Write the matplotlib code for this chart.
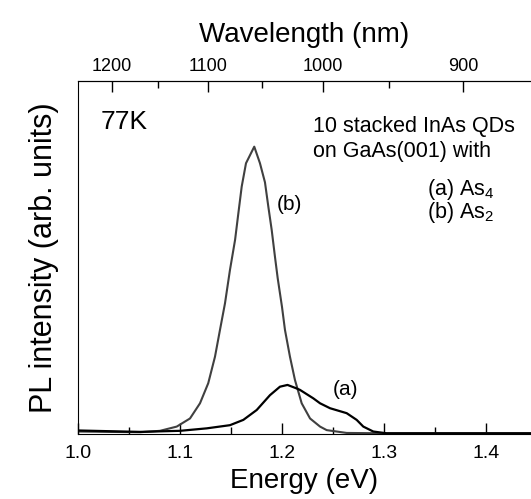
import numpy as np
import matplotlib
matplotlib.use("Agg")
import matplotlib.pyplot as plt
from matplotlib.ticker import FixedLocator, NullFormatter

plt.rcParams['font.family'] = ['Liberation Sans', 'DejaVu Sans']
plt.rcParams['mathtext.fontset'] = 'custom'
plt.rcParams['mathtext.rm'] = 'Liberation Sans'
plt.rcParams['mathtext.it'] = 'Liberation Sans'

# curve (b): As2
energy_b = [1.000, 1.030, 1.0608, 1.0804, 1.0968, 1.1098, 1.1196, 1.1277, 1.1343, 1.1392,
            1.1441, 1.149, 1.154, 1.1572, 1.1605, 1.1647, 1.1728, 1.1784, 1.1833,
            1.1866, 1.1899, 1.1931, 1.1958, 1.2000, 1.2029, 1.2078, 1.2127, 1.2193,
            1.2275, 1.2373, 1.2438, 1.2634, 1.300, 1.350, 1.400, 1.445]
pl_b = [0.007, 0.006, 0.005, 0.009, 0.021, 0.044, 0.087, 0.144, 0.219, 0.295,
        0.370, 0.465, 0.550, 0.625, 0.701, 0.767, 0.814, 0.767, 0.713,
        0.644, 0.578, 0.502, 0.441, 0.360, 0.295, 0.219, 0.153, 0.087,
        0.044, 0.021, 0.011, 0.003, 0.002, 0.002, 0.002, 0.002]

# curve (a): As4
energy_a = [1.000, 1.030, 1.0608, 1.100, 1.1262, 1.149, 1.1621, 1.1752, 1.1882, 1.198,
            1.2054, 1.2144, 1.2176, 1.2307, 1.2373, 1.2471, 1.2634, 1.2732, 1.2797,
            1.2895, 1.3026, 1.350, 1.400, 1.445]
pl_a = [0.010, 0.008, 0.006, 0.009, 0.016, 0.025, 0.040, 0.068, 0.110, 0.134,
        0.139, 0.129, 0.125, 0.101, 0.087, 0.073, 0.059, 0.040, 0.021,
        0.007, 0.002, 0.002, 0.002, 0.002]

energy_ticks = [1.0, 1.1, 1.2, 1.3, 1.4]
wl_ticks = [1200, 1100, 1000, 900]
wl_minor = [1150, 1050, 950]

fig = plt.figure(figsize=(5.31, 4.99), dpi=100)
ax = fig.add_axes([78/531, 1-434/499, 1-78/531, (434-81)/499])

ax.plot(energy_b, pl_b, color='#404040', lw=1.5, solid_joinstyle='round')
ax.plot(energy_a, pl_a, color='black', lw=1.6, solid_joinstyle='round')

ax.set_xlim(1.0, 1.0 + 453/1020)
ax.set_ylim(0, 1)
ax.spines['right'].set_visible(False)
ax.set_yticks([])
ax.set_xticks(energy_ticks)
ax.set_xticklabels(['%.1f' % t for t in energy_ticks])
ax.xaxis.set_minor_locator(FixedLocator([1.05, 1.15, 1.25, 1.35]))
ax.tick_params(axis='x', which='major', direction='in', length=8, width=1,
               labelsize=14, pad=8)
ax.tick_params(axis='x', which='minor', direction='in', length=5, width=1)
ax.set_xlabel('Energy (eV)', fontsize=20, labelpad=4)
ax.set_ylabel('PL intensity (arb. units)', fontsize=22, labelpad=14)

def e2wl(e):
    e = np.asarray(e, dtype=float)
    with np.errstate(divide='ignore'):
        return 1239.84 / e

secax = ax.secondary_xaxis('top', functions=(e2wl, e2wl))
secax.xaxis.set_major_locator(FixedLocator(wl_ticks))
secax.xaxis.set_minor_locator(FixedLocator(wl_minor))
secax.xaxis.set_minor_formatter(NullFormatter())
secax.tick_params(which='major', direction='in', length=8, width=1, labelsize=13, pad=4)
secax.tick_params(which='minor', direction='in', length=5, width=1)
secax.set_xlabel('Wavelength (nm)', fontsize=20, labelpad=12)

tr = ax.transAxes
ax.text(0.051, 0.884, '77K', fontsize=19, va='center', transform=tr)
ax.text(0.519, 0.856, '10 stacked InAs QDs', fontsize=15.5, va='baseline', transform=tr)
ax.text(0.519, 0.785, 'on GaAs(001) with', fontsize=15.5, va='baseline', transform=tr)
ax.text(0.770, 0.677, '(a) As$_4$', fontsize=15.5, va='baseline', transform=tr)
ax.text(0.770, 0.612, '(b) As$_2$', fontsize=15.5, va='baseline', transform=tr)
ax.text(0.439, 0.649, '(b)', fontsize=15, va='center', transform=tr)
ax.text(0.563, 0.125, '(a)', fontsize=15, va='center', transform=tr)

fig.savefig('out.png', dpi=100)
